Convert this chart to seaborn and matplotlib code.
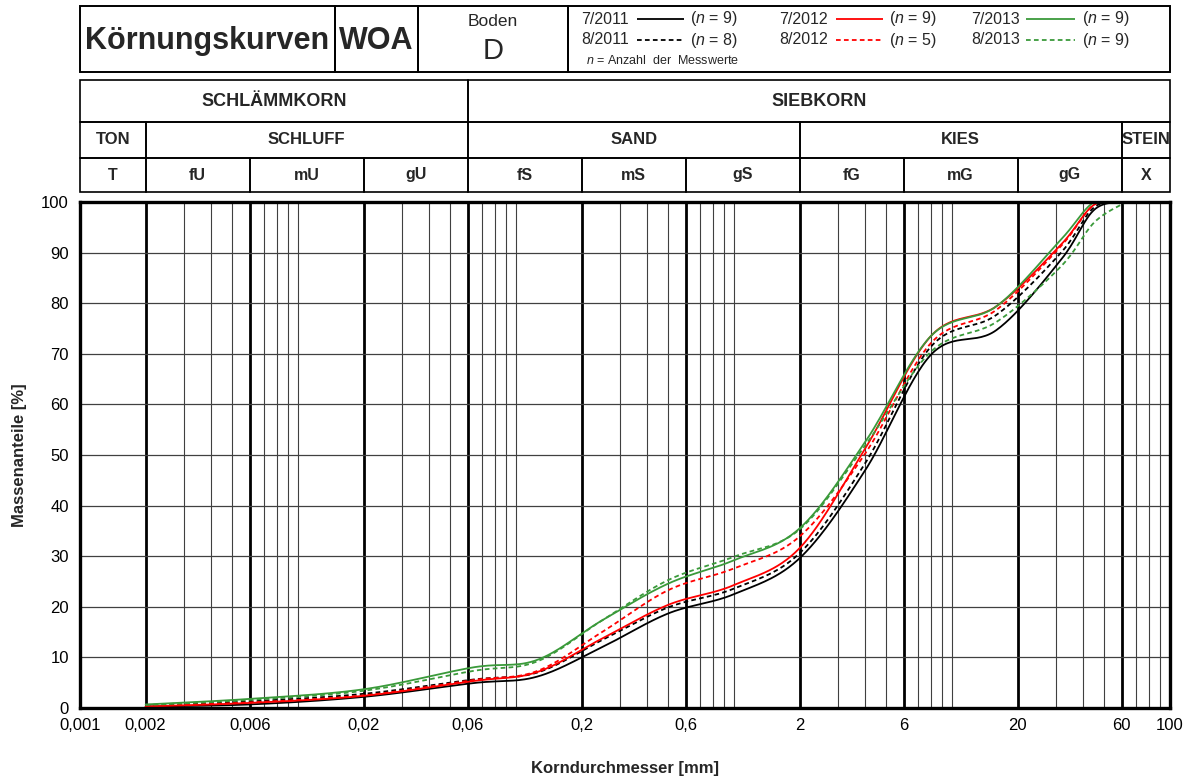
import numpy as np
import pandas as pd
import matplotlib
matplotlib.use("Agg")
import matplotlib.pyplot as plt
from matplotlib.patches import Rectangle
from matplotlib.ticker import FixedLocator, FixedFormatter
import seaborn as sns

# ---------------------------------------------------------------------------
# Messdaten: Siebdurchgang [%] je Korndurchmesser [mm]
# ---------------------------------------------------------------------------
korn_mm = [0.002, 0.006, 0.02, 0.063, 0.125, 0.25, 0.5, 1, 2, 4, 8, 16, 31.5, 45, 63]

d_07_2011 = [0.3, 0.7, 2.2, 4.9, 6.2, 12.1, 18.7, 22.5, 29.6, 47.0, 69.8, 74.7, 88.5, 98.5, 100]
d_08_2011 = [0.4, 1.3, 2.8, 5.6, 7.0, 13.5, 19.9, 23.6, 30.6, 48.4, 71.4, 77.7, 89.9, 99.0, 100]
d_07_2012 = [0.3, 1.0, 2.4, 5.3, 7.1, 13.8, 20.4, 24.3, 31.6, 51.3, 73.5, 79.4, 91.5, 99.5, 100]
d_08_2012 = [0.4, 1.1, 2.5, 5.5, 7.3, 15.1, 23.3, 27.6, 33.9, 50.3, 72.1, 78.7, 91.2, 99.5, 100]
d_07_2013 = [0.7, 1.8, 3.7, 8.0, 9.5, 17.4, 24.6, 29.2, 35.5, 52.6, 73.5, 79.4, 92.5, 100, 100]
d_08_2013 = [0.6, 1.6, 3.4, 7.3, 9.2, 17.4, 25.3, 29.9, 35.3, 51.9, 70.4, 76.3, 87.2, 96.0, 100]

serien = ["7/2011", "8/2011", "7/2012", "8/2012", "7/2013", "8/2013"]
anzahl_n = [9, 8, 9, 5, 9, 9]
werte = [d_07_2011, d_08_2011, d_07_2012, d_08_2012, d_07_2013, d_08_2013]

# Achsenbeschriftung
x_ticks = [0.001, 0.002, 0.006, 0.02, 0.06, 0.2, 0.6, 2, 6, 20, 60, 100]
x_ticklabels = ["0,001", "0,002", "0,006", "0,02", "0,06", "0,2", "0,6", "2", "6", "20", "60", "100"]
y_ticks = [0, 10, 20, 30, 40, 50, 60, 70, 80, 90, 100]

# Kornfraktionen (Kopftabelle)
zeile_haupt = [("SCHLÄMMKORN", 0.001, 0.06), ("SIEBKORN", 0.06, 100)]
zeile_gruppe = [("TON", 0.001, 0.002), ("SCHLUFF", 0.002, 0.06), ("SAND", 0.06, 2),
                ("KIES", 2, 60), ("STEIN", 60, 100)]
zeile_fraktion = [("T", 0.001, 0.002), ("fU", 0.002, 0.006), ("mU", 0.006, 0.02),
                  ("gU", 0.02, 0.06), ("fS", 0.06, 0.2), ("mS", 0.2, 0.6), ("gS", 0.6, 2),
                  ("fG", 2, 6), ("mG", 6, 20), ("gG", 20, 60), ("X", 60, 100)]

# ---------------------------------------------------------------------------
# Stil
# ---------------------------------------------------------------------------
sns.set_theme(style="white")
plt.rcParams["font.family"] = ["Liberation Sans", "DejaVu Sans"]
plt.rcParams["mathtext.fontset"] = "custom"
plt.rcParams["mathtext.it"] = "Liberation Sans:italic"
plt.rcParams["mathtext.rm"] = "Liberation Sans"

GRUEN = "#3a9a3a"
farben = {"7/2011": "black", "8/2011": "black", "7/2012": "#ff0000",
          "8/2012": "#ff0000", "7/2013": GRUEN, "8/2013": GRUEN}
DASH = (2.6, 1.8)
striche = {"7/2011": "", "8/2011": DASH, "7/2012": "", "8/2012": DASH,
           "7/2013": "", "8/2013": DASH}
LW = 1.3


def glatt(xs, ys, steps=30):
    """Geglaettete Kurve (kubische Bezier-Segmente) im log-x/y-Raum."""
    P = np.column_stack([np.log10(xs), np.asarray(ys, float)])
    n = len(P)
    pts = [P[0]]
    t = np.linspace(0, 1, steps + 1)[1:, None]
    for i in range(n - 1):
        p0 = P[i - 1] if i > 0 else P[i]
        p1, p2 = P[i], P[i + 1]
        p3 = P[i + 2] if i + 2 < n else P[i + 1]
        c1 = p1 + (p2 - p0) / 6.0
        c2 = p2 - (p3 - p1) / 6.0
        seg = (1 - t) ** 3 * p1 + 3 * (1 - t) ** 2 * t * c1 + 3 * (1 - t) * t ** 2 * c2 + t ** 3 * p2
        pts.extend(seg)
    pts = np.array(pts)
    return 10 ** pts[:, 0], pts[:, 1]


rows = []
for name, ys in zip(serien, werte):
    gx, gy = glatt(korn_mm, ys)
    rows.append(pd.DataFrame({"d": gx, "p": gy, "Serie": name}))
kurven = pd.concat(rows, ignore_index=True)

# ---------------------------------------------------------------------------
# Figur
# ---------------------------------------------------------------------------
W, H = 1196, 780
fig = plt.figure(figsize=(W / 100, H / 100), dpi=100)
fig.patch.set_facecolor("white")


def px_axes(x0, y0, x1, y1, **kw):
    return fig.add_axes([x0 / W, 1 - y1 / H, (x1 - x0) / W, (y1 - y0) / H], **kw)


ax = px_axes(80, 202, 1170, 708)
ax.set_xscale("log")

sns.lineplot(data=kurven, x="d", y="p", hue="Serie", style="Serie",
             hue_order=serien, style_order=serien,
             palette=farben, dashes=striche, estimator=None, sort=False,
             legend=False, lw=LW, ax=ax, zorder=3)

ax.set_xlim(0.001, 100)
ax.set_ylim(0, 100)

# Raster
minor = []
for k in range(-3, 2):
    for m in range(1, 10):
        v = m * 10.0 ** k
        if 0.0021 < v < 99 and not any(abs(np.log10(v / t)) < 0.01 for t in x_ticks):
            minor.append(v)
ax.xaxis.set_major_locator(FixedLocator(x_ticks))
ax.xaxis.set_major_formatter(FixedFormatter(x_ticklabels))
ax.xaxis.set_minor_locator(FixedLocator(minor))
ax.xaxis.set_minor_formatter(FixedFormatter([""] * len(minor)))
ax.set_yticks(y_ticks)
ax.set_yticklabels([str(v) for v in y_ticks])
ax.grid(which="major", axis="x", color="black", lw=2.0)
ax.grid(which="minor", axis="x", color="#404040", lw=0.8)
ax.grid(which="major", axis="y", color="#404040", lw=0.9)
ax.set_axisbelow(True)
ax.tick_params(which="both", length=0, labelsize=12, colors="black")
ax.tick_params(axis="x", pad=7)
ax.tick_params(axis="y", pad=8)
for s in ax.spines.values():
    s.set_visible(True)
    s.set_color("black")
    s.set_linewidth(2.4)
    s.set_zorder(5)

ax.set_xlabel("Korndurchmesser [mm]", fontsize=12, fontweight="bold")
ax.set_ylabel("Massenanteile [%]", fontsize=12, fontweight="bold")
ax.xaxis.set_label_coords(0.5, -0.105)
ax.yaxis.set_label_coords(-0.049, 0.5)

# ---------------------------------------------------------------------------
# Kopftabelle der Kornfraktionen (gleiche log-Skala wie das Diagramm)
# ---------------------------------------------------------------------------
hdr = px_axes(80, 80, 1170, 192, sharex=ax)
hdr.set_ylim(112, 0)
hdr.axis("off")
zeilen = [(zeile_haupt, 0, 42, 13), (zeile_gruppe, 42, 78, 12), (zeile_fraktion, 78, 112, 11.5)]
for eintraege, y0, y1, fs in zeilen:
    for txt, a, b in eintraege:
        hdr.add_patch(Rectangle((a, y0), b - a, y1 - y0, fill=False, ec="black",
                                lw=1.2, clip_on=False))
        hdr.text(np.sqrt(a * b), (y0 + y1) / 2, txt, ha="center", va="center",
                 fontsize=fs, fontweight="bold")

# ---------------------------------------------------------------------------
# Titelzeile mit Legende
# ---------------------------------------------------------------------------
tax = px_axes(80, 6, 1170, 72)
tax.set_xlim(80, 1170)
tax.set_ylim(72, 6)
tax.axis("off")
for a, b in [(80, 335), (335, 418), (418, 568), (568, 1170)]:
    tax.add_patch(Rectangle((a, 6), b - a, 66, fill=False, ec="black", lw=1.4, clip_on=False))
tax.text(207.5, 41, "Körnungskurven", ha="center", va="center", fontsize=22, fontweight="bold")
tax.text(376.5, 41, "WOA", ha="center", va="center", fontsize=22, fontweight="bold")
tax.text(493, 22, "Boden", ha="center", va="center", fontsize=12.5)
tax.text(493, 51, "D", ha="center", va="center", fontsize=21)

leg_x = [(581, 637, 684, 690), (779, 836, 883, 889), (971, 1026, 1075, 1082)]
leg_y = [19, 40]
for i, name in enumerate(serien):
    col, row = i // 2, i % 2
    xl, l0, l1, xn = leg_x[col]
    y = leg_y[row]
    tax.text(xl, y, name, ha="left", va="center", fontsize=11.5)
    tax.plot([l0, l1], [y, y], color=farben[name], lw=LW,
             linestyle=(0, DASH) if striche[name] else "-", solid_capstyle="butt")
    tax.text(xn, y, r"($\mathit{n}$ = %d)" % anzahl_n[i], ha="left", va="center", fontsize=11.5)
tax.text(586, 60, r"$\mathit{n}$ = Anzahl  der  Messwerte", ha="left", va="center", fontsize=9)

fig.savefig("out.png", dpi=100, facecolor="white")
